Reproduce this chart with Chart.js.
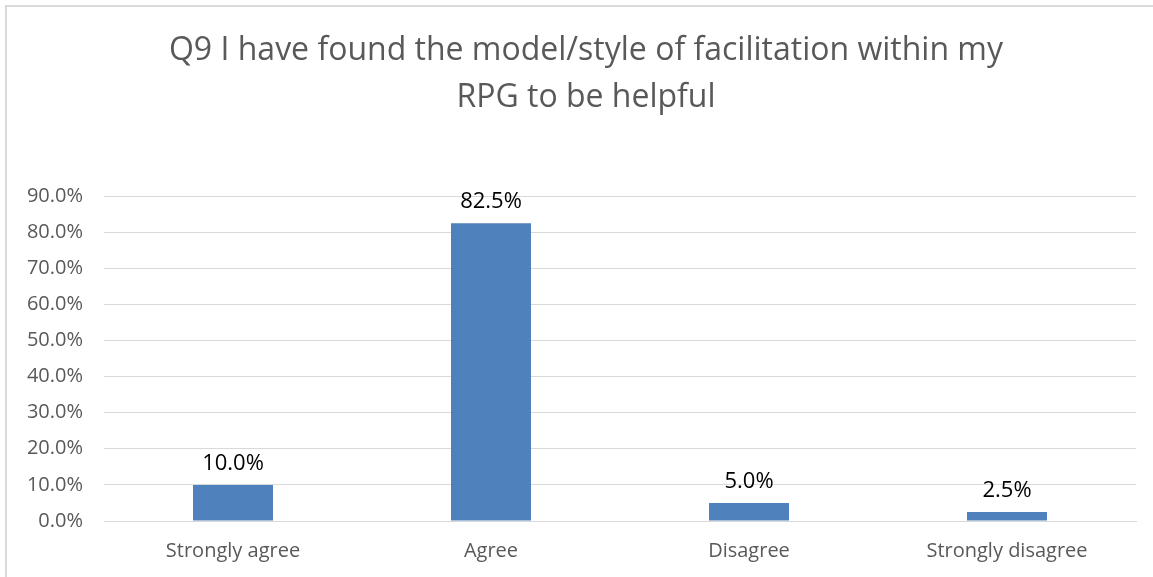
<!DOCTYPE html>
<html>
<head>
  <title>Q9 facilitation</title>
  <script src="https://cdn.jsdelivr.net/npm/chart.js"></script>
  <style>
    body { margin: 0; background: #fff; overflow: hidden; }
    #box { position: absolute; left: 5px; top: 5px; width: 1160px; height: 590px; border: 2px solid #D9D9D9; box-sizing: border-box; }
    #wrap { position: absolute; left: 0; top: 0; width: 1153px; height: 577px; }
  </style>
</head>
<body>
  <div id="box"></div>
  <div id="wrap"><canvas id="chart" width="1153" height="577"></canvas></div>
  <script>
    const categories = ['Strongly agree', 'Agree', 'Disagree', 'Strongly disagree'];
    const values = [10.0, 82.5, 5.0, 2.5];
    const titleLines = ['Q9 I have found the model/style of facilitation within my', 'RPG to be helpful'];

    // etiquettes au-dessus des barres
    const valueLabels = {
      id: 'valueLabels',
      afterDatasetsDraw(chart) {
        const ctx = chart.ctx;
        const meta = chart.getDatasetMeta(0);
        ctx.save();
        ctx.font = '22px "Open Sans", sans-serif';
        ctx.fillStyle = '#000';
        ctx.textAlign = 'center';
        ctx.textBaseline = 'bottom';
        meta.data.forEach((bar, i) => {
          ctx.fillText(values[i].toFixed(1) + '%', bar.x, bar.y - 10);
        });
        ctx.restore();
      }
    };

    const ctx = document.getElementById('chart').getContext('2d');
    new Chart(ctx, {
      type: 'bar',
      data: {
        labels: categories,
        datasets: [{
          data: values,
          backgroundColor: '#4F81BD',
          categoryPercentage: 1,
          barPercentage: 0.31
        }]
      },
      options: {
        responsive: false,
        animation: false,
        layout: { padding: { left: 19, right: 0, top: 17, bottom: 4 } },
        plugins: {
          legend: { display: false },
          tooltip: { enabled: false },
          title: {
            display: true,
            text: titleLines,
            color: '#595959',
            font: { family: '"Open Sans", sans-serif', size: 32, weight: 'normal', lineHeight: 1.47 },
            padding: { top: 10, bottom: 75 }
          }
        },
        scales: {
          x: {
            grid: { display: false },
            border: { color: '#D9D9D9', width: 1 },
            ticks: { color: '#595959', font: { family: '"Open Sans", sans-serif', size: 20 }, padding: 10 }
          },
          y: {
            min: 0,
            max: 90,
            afterFit: scale => { scale.width = 85; },
            ticks: {
              stepSize: 10,
              color: '#595959',
              font: { family: '"Open Sans", sans-serif', size: 20 },
              padding: 21,
              callback: v => v.toFixed(1) + '%'
            },
            grid: { color: '#D9D9D9', drawTicks: false },
            border: { display: false }
          },
          // marge droite vide
          y2: {
            position: 'right',
            afterFit: scale => { scale.width = 17; },
            ticks: { display: false },
            grid: { display: false },
            border: { display: false }
          }
        }
      },
      plugins: [valueLabels]
    });
  </script>
</body>
</html>
